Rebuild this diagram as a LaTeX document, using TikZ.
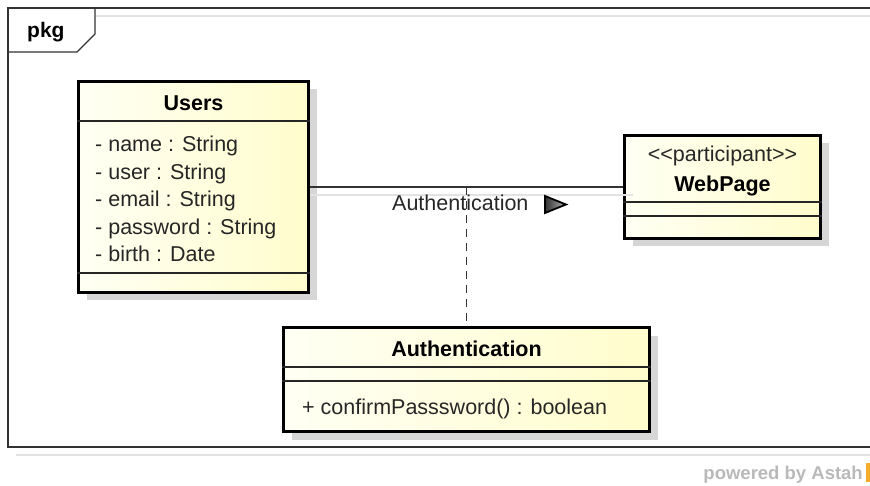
\documentclass[tikz,border=0pt]{standalone}
\usepackage{fontspec}
\setmainfont{Liberation Sans}
\usetikzlibrary{calc}
\definecolor{creamA}{RGB}{255,255,244}
\definecolor{creamB}{RGB}{255,253,204}
\definecolor{shadowgray}{RGB}{214,214,214}
\definecolor{framefaint}{RGB}{226,226,226}
\definecolor{astahgray}{RGB}{185,185,185}
\definecolor{astahorange}{RGB}{245,172,40}
\tikzset{
  umlclass/.style={draw=black, line width=3pt, rectangle, inner sep=0pt,
    anchor=north west, left color=creamA, right color=creamB,
    preaction={fill=shadowgray, transform canvas={shift={(8pt,-8pt)}}}},
  compline/.style={line width=1.4pt, black!85},
  plaintext/.style={font=\fontsize{21.5}{26}\selectfont, inner sep=0pt, text=black!85},
  attrtext/.style={plaintext, anchor=base west},
  titletext/.style={font=\bfseries\fontsize{21.5}{26}\selectfont, inner sep=0pt, anchor=base},
  assoc/.style={line width=1.3pt, black!80},
  faintline/.style={line width=1.2pt, framefaint},
  dependency/.style={line width=1.6pt, black!80, dash pattern=on 8pt off 6pt}
}
\begin{document}
\begin{tikzpicture}[x=1pt,y=-1pt]
\useasboundingbox (0,0) rectangle (870,486);

% package frame with its tab
\draw[faintline] (95,16) -- (870,16);
\draw[faintline] (16,455) -- (870,455);
\draw[line width=1.2pt, black!80] (870,8) -- (8,8) -- (8,447) -- (870,447);
\draw[line width=1.2pt, black!80] (95,8) -- (95,34) -- (77,52) -- (8,52);
\node[font=\bfseries\fontsize{21}{25}\selectfont, anchor=base west, inner sep=0pt] (pkg) at (27,38) {pkg};

% class Users
\node[umlclass, minimum width=230pt, minimum height=211pt] (users) at (77,80) {};
\draw[compline] ($(users.north west)+(0,41)$) -- ($(users.north east)+(0,41)$);
\draw[compline] ($(users.north west)+(0,193)$) -- ($(users.north east)+(0,193)$);
\node[titletext] (userstitle) at ($(users.north)+(0,30.5)$) {Users};
\node[attrtext] (uname) at ($(users.north west)+(18,72)$) {- name : String};
\node[attrtext] (uuser) at ($(users.north west)+(18,99.5)$) {- user : String};
\node[attrtext] (uemail) at ($(users.north west)+(18,127)$) {- email : String};
\node[attrtext] (upass) at ($(users.north west)+(18,154.5)$) {- password : String};
\node[attrtext] (ubirth) at ($(users.north west)+(18,182)$) {- birth : Date};

% class WebPage
\node[umlclass, minimum width=196pt, minimum height=103pt] (web) at (623,134) {};
\draw[compline] ($(web.north west)+(0,68)$) -- ($(web.north east)+(0,68)$);
\draw[compline] ($(web.north west)+(0,82)$) -- ($(web.north east)+(0,82)$);
\node[plaintext, anchor=base] (webstereo) at ($(web.north)+(0,28)$) {<\kern0pt<participant>\kern0pt>};
\node[titletext] (webtitle) at ($(web.north)+(0,58)$) {WebPage};

% class Authentication
\node[umlclass, minimum width=366pt, minimum height=104pt] (auth) at (282,326) {};
\draw[compline] ($(auth.north west)+(0,41)$) -- ($(auth.north east)+(0,41)$);
\draw[compline] ($(auth.north west)+(0,55)$) -- ($(auth.north east)+(0,55)$);
\node[titletext] (authtitle) at ($(auth.north)+(0,30)$) {Authentication};
\node[attrtext] (authop) at ($(auth.north west)+(20,88)$) {+ confirmPasssword() : boolean};

% association Users -- WebPage with its name and reading direction
\draw[assoc] (users.east) -- (web.west);
\draw[faintline] ($(users.east)+(0,8)$) -- ($(web.west)+(10,8)$);
\node[attrtext] (assoclabel) at (392,211) {Authentication};
\draw[line width=1.8pt, black, line join=miter, left color=black!80, right color=black!30]
  (545,196) -- (566,204.5) -- (545,213) -- cycle;

% association class link
\coordinate (dashtop) at (auth.north |- users.east);
\draw[dependency] (dashtop) -- (auth.north);

% footer
\node[font=\bfseries\fontsize{18.5}{22}\selectfont, text=astahgray, anchor=base east, inner sep=0pt] (powered) at (863,479) {powered by Astah};
\fill[astahorange] (866,463) rectangle (870,482);
\end{tikzpicture}
\end{document}
